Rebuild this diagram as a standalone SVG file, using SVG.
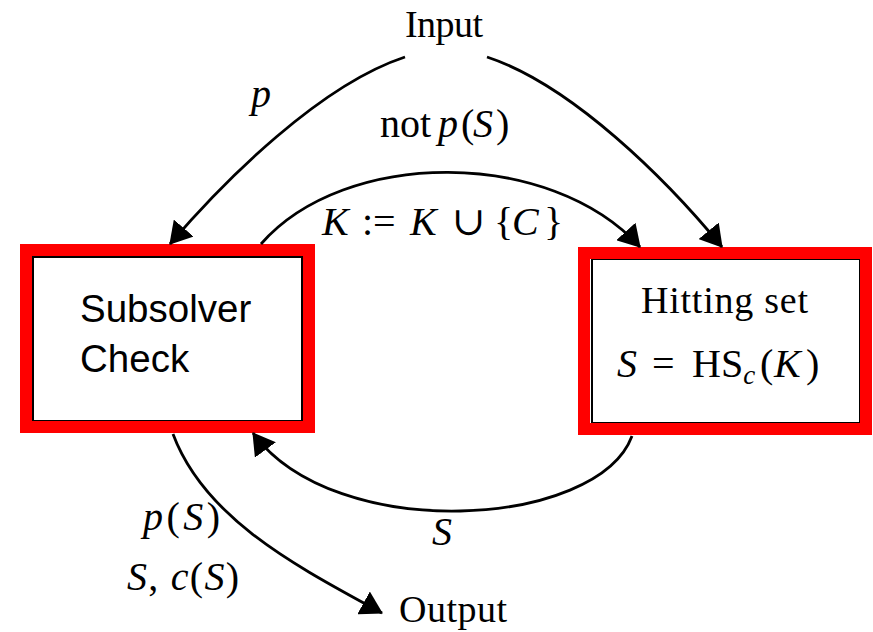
<svg xmlns="http://www.w3.org/2000/svg" width="873" height="632" viewBox="0 0 873 632">
  <style>
    .serif { font-family: "Liberation Serif", "DejaVu Serif", serif; font-size: 38px; fill: #000; }
    .math { font-size: 40px; }
    .it { font-style: italic; }
    .sans { font-family: "Liberation Sans", Arial, sans-serif; font-size: 38.5px; fill: #000; }
    .frame { fill: none; stroke: #ff0000; stroke-width: 12; }
    .box { fill: #fff; stroke: #000; stroke-width: 2; }
    .edge { fill: none; stroke: #000; stroke-width: 2.8; marker-end: url(#arrow); }
  </style>
  <defs>
    <marker id="arrow" markerUnits="userSpaceOnUse" markerWidth="22" markerHeight="26" refX="21" refY="13" orient="auto" viewBox="0 0 22 26">
      <path d="M0,0 L22,13 L0,26 z" fill="#000"/>
    </marker>
  </defs>

  <!-- Subsolver node -->
  <g id="subsolver">
    <rect class="box" x="33" y="257" width="269" height="164"/>
    <rect class="frame" x="26" y="250" width="283" height="177"/>
    <text class="sans" x="80" y="322">Subsolver</text>
    <text class="sans" x="80" y="372">Check</text>
  </g>

  <!-- Hitting set node -->
  <g id="hitting-set">
    <rect class="box" x="592" y="259" width="268" height="164"/>
    <rect class="frame" x="584" y="253" width="282" height="176"/>
    <text class="serif" x="641" y="313" textLength="167">Hitting set</text>
    <text class="serif math" y="377"><tspan class="it" x="617">S</tspan><tspan x="652">=</tspan><tspan x="692">HS</tspan><tspan class="it" font-size="27" dy="7">c</tspan><tspan x="760" dy="-7">(</tspan><tspan class="it" x="774">K</tspan><tspan x="806">)</tspan></text>
  </g>

  <!-- Input / Output terminals -->
  <g id="input">
    <text class="serif" x="405" y="37" font-size="37" textLength="78">Input</text>
  </g>
  <g id="output">
    <text class="serif" x="399" y="622" font-size="37" textLength="108">Output</text>
  </g>

  <!-- Connectors -->
  <g id="connectors">
    <path class="edge" d="M405,57 C320,85 225,180 170,244"/>
    <path class="edge" d="M487,57 C572,85 667,180 722,247"/>
    <path class="edge" d="M261,244 C345,148 550,148 640,247"/>
    <path class="edge" d="M632,436 C598,528 335,545 253,433"/>
    <path class="edge" d="M173,434 C205,520 300,568 382,613"/>
  </g>

  <!-- Connector labels -->
  <g id="labels">
    <text class="serif math it" x="251" y="107">p</text>
    <text class="serif math" y="137"><tspan x="380">not</tspan><tspan class="it" x="438">p</tspan><tspan x="461">(</tspan><tspan class="it" x="473">S</tspan><tspan x="496">)</tspan></text>
    <text class="serif math" y="235"><tspan class="it" x="322">K</tspan><tspan x="362">:=</tspan><tspan class="it" x="410">K</tspan><tspan x="452">∪</tspan><tspan x="494">{</tspan><tspan class="it" x="512">C</tspan><tspan x="544">}</tspan></text>
    <text class="serif math it" x="432" y="545">S</text>
    <text class="serif math" x="143" y="530" textLength="77"><tspan class="it">p</tspan>(<tspan class="it">S</tspan>)</text>
    <text class="serif math" x="127" y="590" textLength="112"><tspan class="it">S</tspan>, <tspan class="it">c</tspan>(<tspan class="it">S</tspan>)</text>
  </g>
</svg>
